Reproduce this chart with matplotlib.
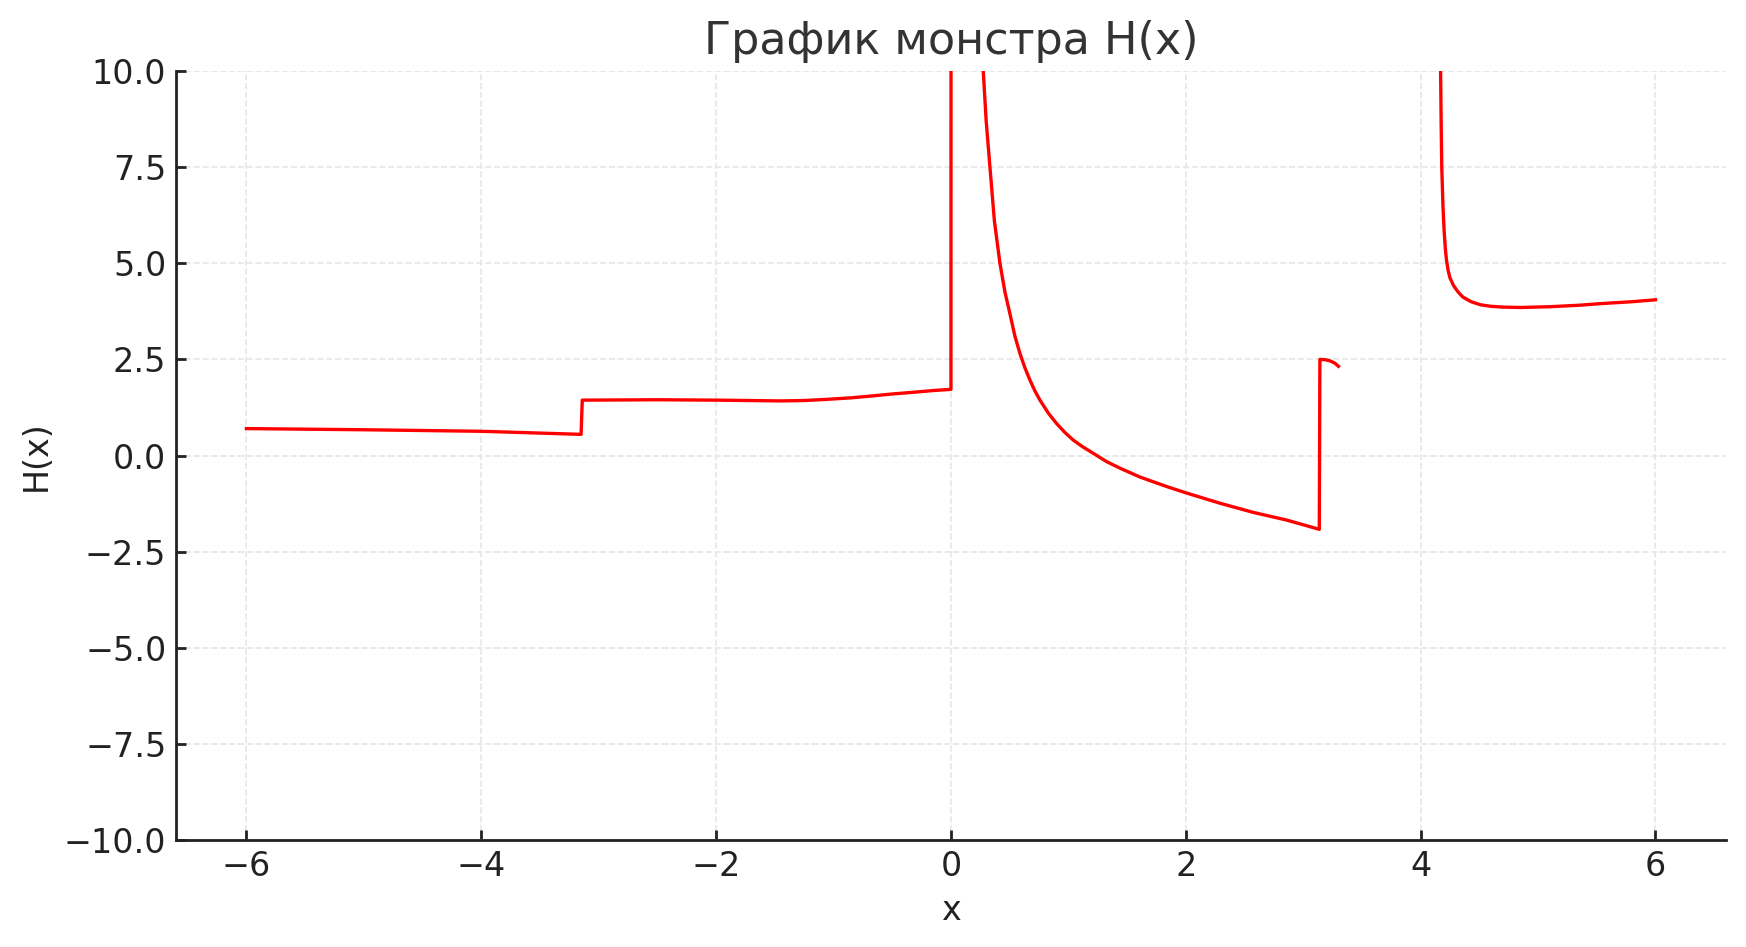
import numpy as np
import matplotlib
matplotlib.use("Agg")
import matplotlib.pyplot as plt


# values (NaN breaks the line)
x_vals = [
    -6.0, -5.0, -4.0, -3.15,
    -3.14, -2.5, -2.0, -1.45, -1.25, -1.06, -0.85, -0.67, -0.5, -0.3, -0.15, 0.0,
    0.01, 0.275, 0.30, 0.332, 0.37, 0.417, 0.46, 0.502, 0.545, 0.588, 0.63,
    0.673, 0.715, 0.758, 0.83, 0.90, 0.97, 1.042, 1.12, 1.20, 1.326, 1.44,
    1.61, 1.72, 1.85, 2.0, 2.29, 2.575, 2.86, 3.137,
    3.142, 3.19, 3.23, 3.27, 3.30,
    3.31,
    4.165, 4.17, 4.175, 4.18, 4.19, 4.20, 4.21, 4.22, 4.235, 4.25, 4.28,
    4.32, 4.36, 4.43, 4.51, 4.60, 4.70, 4.85, 5.10, 5.36, 5.53, 5.80, 6.0,
]
h_vals = [
    0.70, 0.67, 0.63, 0.55,
    1.44, 1.45, 1.44, 1.42, 1.43, 1.46, 1.50, 1.55, 1.60, 1.65, 1.69, 1.72,
    200.0, 10.0, 8.7, 7.5, 6.1, 5.0, 4.25, 3.69, 3.1, 2.65, 2.28,
    1.96, 1.68, 1.44, 1.1, 0.83, 0.6, 0.40, 0.23, 0.08, -0.16, -0.33,
    -0.56, -0.68, -0.82, -0.97, -1.24, -1.48, -1.68, -1.92,
    2.50, 2.49, 2.46, 2.40, 2.32,
    np.nan,
    12.0, 10.0, 8.6, 7.5, 6.5, 5.85, 5.4, 5.08, 4.8, 4.62, 4.42,
    4.25, 4.12, 4.0, 3.92, 3.88, 3.86, 3.85, 3.87, 3.91, 3.95, 4.00, 4.05,
]

title = "График монстра H(x)"
x_label = "x"
y_label = "H(x)"


plt.rcParams["font.family"] = ["DejaVu Sans"]

fig = plt.figure(figsize=(8.73, 4.735), dpi=200)
ax = fig.add_axes([0.1008, 0.113, 0.8877, 0.812])

ax.plot(x_vals, h_vals, color="red", linewidth=1.2)

ax.set_ylim(-10, 10)
ax.set_xlim(-6.6, 6.6)

ax.set_title(title, fontsize=16, color="#333333", pad=6)
ax.set_xlabel(x_label, fontsize=12, color="#222222")
ax.set_ylabel(y_label, fontsize=12, color="#222222")

ax.grid(True, linestyle="--", color="#e6e6e6", linewidth=0.6)
ax.set_axisbelow(True)

for side in ["top", "right"]:
    ax.spines[side].set_visible(False)
for side in ["left", "bottom"]:
    ax.spines[side].set_color("#222222")
    ax.spines[side].set_linewidth(1.0)

ax.tick_params(direction="in", length=3.5, width=1.0, colors="#222222",
               labelsize=12)

fig.savefig("out.png", dpi=200)
